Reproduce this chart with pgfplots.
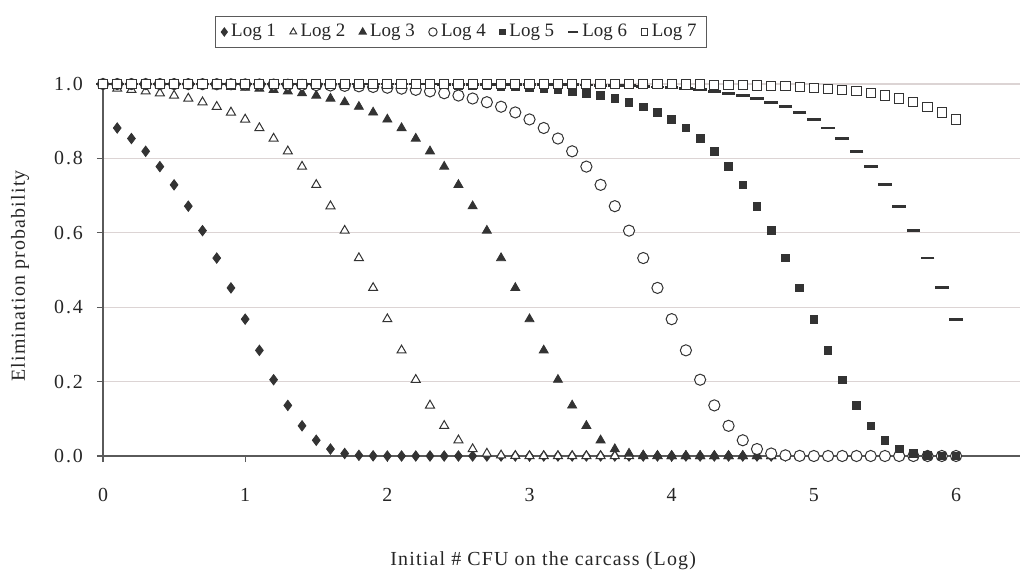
\documentclass[border=0pt]{standalone}
\usepackage{pgfplots}
\pgfplotsset{compat=1.18}
\usepackage{pgfplotstable}
\usepackage{fontspec}
\setmainfont{Liberation Serif}

\definecolor{mk}{HTML}{333333}
\definecolor{gridc}{HTML}{DCD4D4}
\definecolor{axc}{HTML}{5A5A5A}

% x = initial log CFU, l1..l7 = elimination probability per log reduction
\pgfplotstableread{
x   l1     l2     l3     l4     l5     l6     l7
0.0 1      1      1      1      1      1      1
0.1 0.8817 0.9875 0.9987 0.9999 1      1      1
0.2 0.8534 0.9843 0.9984 0.9998 1      1      1
0.3 0.8191 0.9802 0.9980 0.9998 1      1      1
0.4 0.7779 0.9752 0.9975 0.9997 1      1      1
0.5 0.7289 0.9689 0.9968 0.9997 1      1      1
0.6 0.6716 0.9610 0.9960 0.9996 1      1      1
0.7 0.6058 0.9511 0.9950 0.9995 1      1      1
0.8 0.5321 0.9389 0.9937 0.9994 1      1      1
0.9 0.4519 0.9236 0.9921 0.9992 1      1      1
1.0 0.3679 0.9048 0.9900 0.9990 1      1      1
1.1 0.2840 0.8817 0.9875 0.9987 0.9999 1      1
1.2 0.2050 0.8534 0.9843 0.9984 0.9998 1      1
1.3 0.1360 0.8191 0.9802 0.9980 0.9998 1      1
1.4 0.0811 0.7779 0.9752 0.9975 0.9997 1      1
1.5 0.0423 0.7289 0.9689 0.9968 0.9997 1      1
1.6 0.0187 0.6716 0.9610 0.9960 0.9996 1      1
1.7 0.0067 0.6058 0.9511 0.9950 0.9995 1      1
1.8 0.0018 0.5321 0.9389 0.9937 0.9994 1      1
1.9 0.0004 0.4519 0.9236 0.9921 0.9992 1      1
2.0 0      0.3679 0.9048 0.9900 0.9990 1      1
2.1 0      0.2840 0.8817 0.9875 0.9987 0.9999 1
2.2 0      0.2050 0.8534 0.9843 0.9984 0.9998 1
2.3 0      0.1360 0.8191 0.9802 0.9980 0.9998 1
2.4 0      0.0811 0.7779 0.9752 0.9975 0.9997 1
2.5 0      0.0423 0.7289 0.9689 0.9968 0.9997 1
2.6 0      0.0187 0.6716 0.9610 0.9960 0.9996 1
2.7 0      0.0067 0.6058 0.9511 0.9950 0.9995 1
2.8 0      0.0018 0.5321 0.9389 0.9937 0.9994 1
2.9 0      0.0004 0.4519 0.9236 0.9921 0.9992 1
3.0 0      0      0.3679 0.9048 0.9900 0.9990 1
3.1 0      0      0.2840 0.8817 0.9875 0.9987 0.9999
3.2 0      0      0.2050 0.8534 0.9843 0.9984 0.9998
3.3 0      0      0.1360 0.8191 0.9802 0.9980 0.9998
3.4 0      0      0.0811 0.7779 0.9752 0.9975 0.9997
3.5 0      0      0.0423 0.7289 0.9689 0.9968 0.9997
3.6 0      0      0.0187 0.6716 0.9610 0.9960 0.9996
3.7 0      0      0.0067 0.6058 0.9511 0.9950 0.9995
3.8 0      0      0.0018 0.5321 0.9389 0.9937 0.9994
3.9 0      0      0.0004 0.4519 0.9236 0.9921 0.9992
4.0 0      0      0      0.3679 0.9048 0.9900 0.9990
4.1 0      0      0      0.2840 0.8817 0.9875 0.9987
4.2 0      0      0      0.2050 0.8534 0.9843 0.9984
4.3 0      0      0      0.1360 0.8191 0.9802 0.9980
4.4 0      0      0      0.0811 0.7779 0.9752 0.9975
4.5 0      0      0      0.0423 0.7289 0.9689 0.9968
4.6 0      0      0      0.0187 0.6716 0.9610 0.9960
4.7 0      0      0      0.0067 0.6058 0.9511 0.9950
4.8 0      0      0      0.0018 0.5321 0.9389 0.9937
4.9 0      0      0      0.0004 0.4519 0.9236 0.9921
5.0 0      0      0      0      0.3679 0.9048 0.9900
5.1 0      0      0      0      0.2840 0.8817 0.9875
5.2 0      0      0      0      0.2050 0.8534 0.9843
5.3 0      0      0      0      0.1360 0.8191 0.9802
5.4 0      0      0      0      0.0811 0.7779 0.9752
5.5 0      0      0      0      0.0423 0.7289 0.9689
5.6 0      0      0      0      0.0187 0.6716 0.9610
5.7 0      0      0      0      0.0067 0.6058 0.9511
5.8 0      0      0      0      0.0018 0.5321 0.9389
5.9 0      0      0      0      0.0004 0.4519 0.9236
6.0 0      0      0      0      0      0.3679 0.9048
}\elim

\begin{document}
\begin{tikzpicture}
    \begin{axis}[scale only axis,
                 width=458.5bp,
                 height=186bp,
                 xmin=0, xmax=6.45,
                 ymin=0, ymax=1,
                 clip=false,
                 axis x line*=bottom,
                 axis y line*=left,
                 axis line style={color=axc, line width=0.6bp},
                 tick style={color=axc, line width=0.6bp},
                 tick align=outside,
                 major tick length=3bp,
                 xtick={0,1,2,3,4,5,6},
                 ytick={0,0.2,0.4,0.6,0.8,1.0},
                 yticklabel style={/pgf/number format/fixed,
                                   /pgf/number format/fixed zerofill,
                                   /pgf/number format/precision=1,
                                   xshift=-3.5bp},
                 xticklabel style={yshift=-9.5bp},
                 /pgf/number format/assume math mode=true,
                 ticklabel style={font=\fontsize{10}{12}\selectfont\addfontfeature{LetterSpace=10}, color=black!85},
                 ymajorgrids,
                 grid style={color=gridc, line width=0.6bp},
                 xlabel={Initial \# CFU on the carcass (Log)},
                 ylabel={Elimination probability},
                 label style={font=\fontsize{10}{12}\selectfont\addfontfeature{LetterSpace=6}, color=black!85},
                 xlabel style={at={(rel axis cs:0.48,-0.2823)}, anchor=center},
                 ylabel style={at={(rel axis cs:-0.0905,0.484)}, anchor=center},
                 legend columns=7,
                 legend style={at={(0.3904,1.1398)}, anchor=center,
                               draw=axc, line width=0.6bp,
                               font=\fontsize{9.5}{11}\selectfont, text=black!85,
                               inner xsep=3bp, inner ysep=2bp,
                               /tikz/every even column/.append style={column sep=5bp}},
                 legend image post style={scale=0.75}]
        \coordinate (sw) at (rel axis cs:0,0);

        \addplot[only marks, mark=diamond*, mark size=2.6bp, color=mk, mark options={fill=mk}]
            table[x=x, y=l1] {\elim};
        \addplot[only marks, mark=triangle*, mark size=2.6bp, color=mk, line width=0.5bp, mark options={fill=white}]
            table[x=x, y=l2] {\elim};
        \addplot[only marks, mark=triangle*, mark size=2.6bp, color=mk, mark options={fill=mk}]
            table[x=x, y=l3] {\elim};
        \addplot[only marks, mark=*, mark size=2.8bp, color=mk, line width=0.5bp, mark options={fill=white}]
            table[x=x, y=l4] {\elim};
        \addplot[only marks, mark=square*, mark size=1.9bp, color=mk, mark options={fill=mk}]
            table[x=x, y=l5] {\elim};
        \addplot[only marks, mark=-, mark size=3.4bp, color=mk, line width=1.4bp]
            table[x=x, y=l6] {\elim};
        \addplot[only marks, mark=square*, mark size=2.3bp, color=mk, line width=0.5bp, mark options={fill=white}]
            table[x=x, y=l7] {\elim};

        \legend{Log 1, Log 2, Log 3, Log 4, Log 5, Log 6, Log 7}
    \end{axis}
    \pgfresetboundingbox
    \path[use as bounding box] ([xshift=-51.5bp, yshift=-59bp]sw) rectangle ++(510.5bp, 287bp);
\end{tikzpicture}
\end{document}
